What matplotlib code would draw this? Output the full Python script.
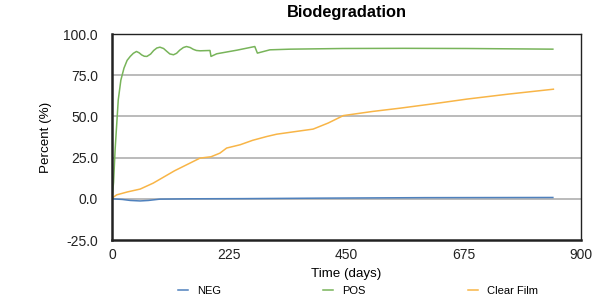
import matplotlib.pyplot as plt
from matplotlib.ticker import FormatStrFormatter

# values
neg_days = [0, 20, 35, 54, 70, 92, 150, 250, 400, 600, 846]
neg_pct = [0.0, -0.4, -1.0, -1.3, -1.0, -0.2, 0.0, 0.1, 0.4, 0.7, 0.8]

pos_days = [0, 3, 6, 12, 17, 23, 29, 35, 41, 47, 52, 57, 62, 67, 74, 80, 86, 92, 99, 105,
            111, 118, 124, 130, 137, 143, 150, 156, 162, 169, 188, 190, 201, 240, 274, 279,
            303, 342, 443, 560, 681, 846]
pos_pct = [0, 10, 30, 60, 72, 79.3, 84, 86.4, 88.3, 89.4, 88.6, 87.3, 86.5, 86.4, 87.8,
           90, 91.5, 92, 91.2, 89.5, 87.9, 87.4, 88.3, 90.2, 91.8, 92.4, 91.8, 90.7, 90.0,
           89.8, 90, 86.4, 88, 90.2, 92.4, 88.4, 90.4, 90.8, 91.2, 91.3, 91.2, 90.8]

film_days = [0, 9, 30, 54, 79, 120, 169, 190, 207, 220, 246, 270, 297, 316, 361, 386,
             415, 444, 500, 553, 620, 681, 760, 847]
film_pct = [0.4, 2.4, 4.2, 5.9, 9.5, 17, 24.7, 25.5, 27.7, 30.8, 32.8, 35.5, 37.8, 39.2, 41.2, 42.3,
            46, 50.5, 53, 55, 57.8, 60.5, 63.5, 66.5]

series = [("NEG", neg_days, neg_pct, "#4f81bd"),
          ("POS", pos_days, pos_pct, "#78b45a"),
          ("Clear Film", film_days, film_pct, "#f8b547")]

plt.rcParams['font.family'] = ['Liberation Sans', 'DejaVu Sans']

fig = plt.figure(figsize=(6.02, 3.07), dpi=100)
ax = fig.add_axes([112 / 602, 1 - 240 / 307, 469 / 602, 206 / 307])

for name, x, y, c in series:
    ax.plot(x, y, color=c, lw=1.1, label=name)

ax.set_xlim(0, 900)
ax.set_ylim(-25, 100)
ax.set_xticks([0, 225, 450, 675, 900])
ax.set_yticks([-25, 0, 25, 50, 75, 100])
ax.yaxis.set_major_formatter(FormatStrFormatter('%.1f'))
ax.tick_params(length=0, labelsize=10, colors='#222222')
ax.tick_params(axis='y', pad=10)
ax.tick_params(axis='x', pad=6)
for yv in [0, 25, 50, 75]:
    ax.axhline(yv, color='#b5b5b5', lw=1.3, zorder=0)

ax.spines['left'].set_linewidth(1.8)
ax.spines['bottom'].set_linewidth(1.8)
ax.spines['top'].set_linewidth(1.0)
ax.spines['right'].set_linewidth(1.0)
for s in ax.spines.values():
    s.set_color('#222222')

ax.set_title("Biodegradation", fontsize=11.8, fontweight='bold', pad=12)
ax.set_xlabel("Time (days)", fontsize=9.6, labelpad=4)
ax.set_ylabel("Percent (%)", fontsize=9.6, labelpad=8)

fig.legend(loc='center', bbox_to_anchor=(358 / 602, 1 - 291 / 307), ncol=3, frameon=False,
           fontsize=8, handlelength=0.9, columnspacing=9.2, handletextpad=0.8)

fig.savefig("out.png", dpi=100)
